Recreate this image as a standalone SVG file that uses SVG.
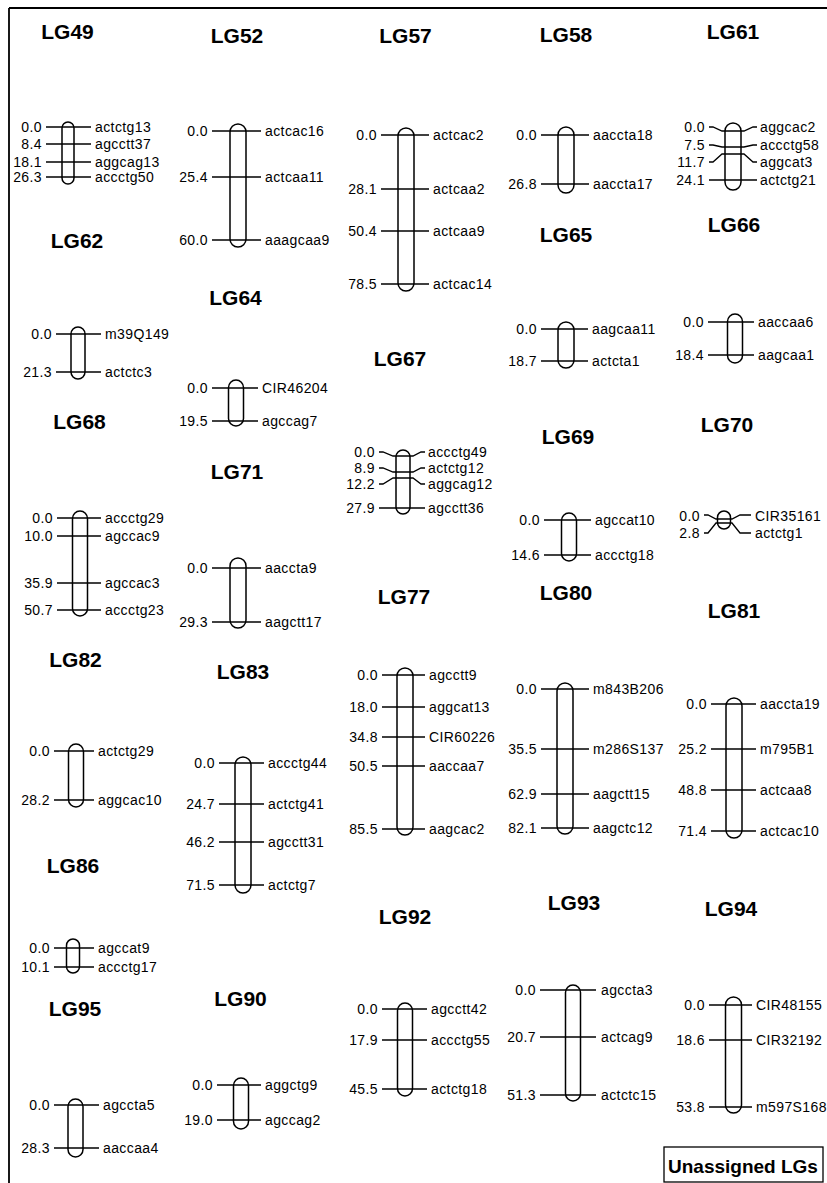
<svg xmlns="http://www.w3.org/2000/svg" width="827" height="1183" viewBox="0 0 827 1183">
<style>
.t{font-family:"Liberation Sans",Arial,sans-serif;font-weight:bold;font-size:21px;text-anchor:middle;fill:#000}
.n{font-family:"Liberation Sans",Arial,sans-serif;font-size:14px;letter-spacing:0.4px;text-anchor:end;fill:#000}
.m{font-family:"Liberation Sans",Arial,sans-serif;font-size:14px;letter-spacing:0.4px;text-anchor:start;fill:#000}
.c{fill:none;stroke:#000;stroke-width:1.5}
.l{fill:none;stroke:#000;stroke-width:1.3}
.f{fill:none;stroke:#000;stroke-width:1.8}
.u{font-family:"Liberation Sans",Arial,sans-serif;font-weight:bold;font-size:19px;fill:#000}
</style>
<rect width="827" height="1183" fill="#fff"/>
<g id="frame"><line class="f" x1="9" y1="8" x2="827" y2="8"/><line class="f" x1="9" y1="8" x2="9" y2="1183"/></g>

<g id="LG49">
<text class="t" x="67.5" y="39">LG49</text>
<rect class="c" x="62" y="122" width="12" height="62" rx="6"/>
<g class="l"><line x1="46" y1="127" x2="91" y2="127"/><line x1="46" y1="144" x2="91" y2="144"/><line x1="46" y1="162" x2="91" y2="162"/><line x1="46" y1="177" x2="91" y2="177"/></g>
<text class="n" x="42" y="132">0.0</text><text class="n" x="42" y="149">8.4</text><text class="n" x="42" y="167">18.1</text><text class="n" x="42" y="182">26.3</text>
<text class="m" x="95" y="132">actctg13</text><text class="m" x="95" y="149">agcctt37</text><text class="m" x="95" y="167">aggcag13</text><text class="m" x="95" y="182">accctg50</text>
</g>

<g id="LG52">
<text class="t" x="237" y="43">LG52</text>
<rect class="c" x="230" y="124" width="16" height="123" rx="8"/>
<g class="l"><line x1="212" y1="131" x2="261" y2="131"/><line x1="212" y1="177" x2="261" y2="177"/><line x1="212" y1="240" x2="261" y2="240"/></g>
<text class="n" x="208" y="136">0.0</text><text class="n" x="208" y="182">25.4</text><text class="n" x="208" y="245">60.0</text>
<text class="m" x="265" y="136">actcac16</text><text class="m" x="265" y="182">actcaa11</text><text class="m" x="265" y="245">aaagcaa9</text>
</g>

<g id="LG57">
<text class="t" x="405.5" y="43">LG57</text>
<rect class="c" x="398" y="128" width="16" height="163" rx="8"/>
<g class="l"><line x1="381" y1="135" x2="429" y2="135"/><line x1="381" y1="189" x2="429" y2="189"/><line x1="381" y1="231" x2="429" y2="231"/><line x1="381" y1="284" x2="429" y2="284"/></g>
<text class="n" x="377" y="140">0.0</text><text class="n" x="377" y="194">28.1</text><text class="n" x="377" y="236">50.4</text><text class="n" x="377" y="289">78.5</text>
<text class="m" x="433" y="140">actcac2</text><text class="m" x="433" y="194">actcaa2</text><text class="m" x="433" y="236">actcaa9</text><text class="m" x="433" y="289">actcac14</text>
</g>

<g id="LG58">
<text class="t" x="566" y="42">LG58</text>
<rect class="c" x="558" y="127" width="16" height="66" rx="8"/>
<g class="l"><line x1="541" y1="135" x2="589" y2="135"/><line x1="541" y1="184" x2="589" y2="184"/></g>
<text class="n" x="537" y="140">0.0</text><text class="n" x="537" y="189">26.8</text>
<text class="m" x="593" y="140">aaccta18</text><text class="m" x="593" y="189">aaccta17</text>
</g>

<g id="LG61">
<text class="t" x="733" y="39">LG61</text>
<rect class="c" x="725" y="123" width="16" height="67" rx="8"/>
<g class="l">
<polyline points="709,127 713,127 722,131 744,131 753,127 757,127"/>
<polyline points="709,145 713,145 722,147 744,147 753,145 757,145"/>
<polyline points="709,162 713,162 722,154 744,154 753,162 757,162"/>
<line x1="709" y1="180" x2="757" y2="180"/>
</g>
<text class="n" x="705" y="132">0.0</text><text class="n" x="705" y="150">7.5</text><text class="n" x="705" y="167">11.7</text><text class="n" x="705" y="185">24.1</text>
<text class="m" x="760" y="132">aggcac2</text><text class="m" x="760" y="150">accctg58</text><text class="m" x="760" y="167">aggcat3</text><text class="m" x="760" y="185">actctg21</text>
</g>

<g id="LG62">
<text class="t" x="77" y="248">LG62</text>
<rect class="c" x="71" y="327" width="14" height="52" rx="7"/>
<g class="l"><line x1="56" y1="334" x2="101" y2="334"/><line x1="56" y1="372" x2="101" y2="372"/></g>
<text class="n" x="52" y="339">0.0</text><text class="n" x="52" y="377">21.3</text>
<text class="m" x="105" y="339">m39Q149</text><text class="m" x="105" y="377">actctc3</text>
</g>

<g id="LG64">
<text class="t" x="235.5" y="305">LG64</text>
<rect class="c" x="228.5" y="380" width="15" height="46" rx="7.5"/>
<g class="l"><line x1="212" y1="388" x2="258" y2="388"/><line x1="212" y1="421" x2="258" y2="421"/></g>
<text class="n" x="208" y="393">0.0</text><text class="n" x="208" y="426">19.5</text>
<text class="m" x="262" y="393">CIR46204</text><text class="m" x="262" y="426">agccag7</text>
</g>

<g id="LG65">
<text class="t" x="566" y="242">LG65</text>
<rect class="c" x="558" y="322" width="16" height="46" rx="8"/>
<g class="l"><line x1="541" y1="329" x2="588" y2="329"/><line x1="541" y1="361" x2="588" y2="361"/></g>
<text class="n" x="537" y="334">0.0</text><text class="n" x="537" y="366">18.7</text>
<text class="m" x="592" y="334">aagcaa11</text><text class="m" x="592" y="366">actcta1</text>
</g>

<g id="LG66">
<text class="t" x="734" y="232">LG66</text>
<rect class="c" x="727.5" y="314" width="15" height="49" rx="7.5"/>
<g class="l"><line x1="708" y1="322" x2="754" y2="322"/><line x1="708" y1="355" x2="754" y2="355"/></g>
<text class="n" x="704" y="327">0.0</text><text class="n" x="704" y="360">18.4</text>
<text class="m" x="758" y="327">aaccaa6</text><text class="m" x="758" y="360">aagcaa1</text>
</g>

<g id="LG67">
<text class="t" x="400" y="366">LG67</text>
<rect class="c" x="396" y="450" width="14" height="64" rx="7"/>
<g class="l">
<polyline points="379,452 383,452 393,456 413,456 421,452 425,452"/>
<polyline points="379,468 383,468 393,472 413,472 421,468 425,468"/>
<polyline points="379,484 383,484 393,478 413,478 421,484 425,484"/>
<line x1="379" y1="508" x2="425" y2="508"/>
</g>
<text class="n" x="375" y="457">0.0</text><text class="n" x="375" y="473">8.9</text><text class="n" x="375" y="489">12.2</text><text class="n" x="375" y="513">27.9</text>
<text class="m" x="428" y="457">accctg49</text><text class="m" x="428" y="473">actctg12</text><text class="m" x="428" y="489">aggcag12</text><text class="m" x="428" y="513">agcctt36</text>
</g>

<g id="LG68">
<text class="t" x="79.5" y="429">LG68</text>
<rect class="c" x="72.5" y="511" width="15" height="105" rx="7.5"/>
<g class="l"><line x1="57" y1="518" x2="101" y2="518"/><line x1="57" y1="536" x2="101" y2="536"/><line x1="57" y1="583" x2="101" y2="583"/><line x1="57" y1="610" x2="101" y2="610"/></g>
<text class="n" x="53" y="523">0.0</text><text class="n" x="53" y="541">10.0</text><text class="n" x="53" y="588">35.9</text><text class="n" x="53" y="615">50.7</text>
<text class="m" x="105" y="523">accctg29</text><text class="m" x="105" y="541">agccac9</text><text class="m" x="105" y="588">agccac3</text><text class="m" x="105" y="615">accctg23</text>
</g>

<g id="LG69">
<text class="t" x="568" y="444">LG69</text>
<rect class="c" x="561.5" y="513" width="15" height="48" rx="7.5"/>
<g class="l"><line x1="544" y1="520" x2="591" y2="520"/><line x1="544" y1="555" x2="591" y2="555"/></g>
<text class="n" x="540" y="525">0.0</text><text class="n" x="540" y="560">14.6</text>
<text class="m" x="595" y="525">agccat10</text><text class="m" x="595" y="560">accctg18</text>
</g>

<g id="LG70">
<text class="t" x="727" y="432">LG70</text>
<rect class="c" x="717.5" y="511" width="13" height="18" rx="6.5"/>
<g class="l">
<polyline points="704,515 708,515 716,519 732,519 740,515 751,515"/>
<polyline points="704,533 708,533 716,523 732,523 740,533 751,533"/>
</g>
<text class="n" x="700" y="521">0.0</text><text class="n" x="700" y="538">2.8</text>
<text class="m" x="755" y="521">CIR35161</text><text class="m" x="755" y="538">actctg1</text>
</g>

<g id="LG71">
<text class="t" x="237" y="479">LG71</text>
<rect class="c" x="230" y="558" width="16" height="70" rx="8"/>
<g class="l"><line x1="212" y1="568" x2="261" y2="568"/><line x1="212" y1="622" x2="261" y2="622"/></g>
<text class="n" x="208" y="573">0.0</text><text class="n" x="208" y="627">29.3</text>
<text class="m" x="265" y="573">aaccta9</text><text class="m" x="265" y="627">aagctt17</text>
</g>

<g id="LG77">
<text class="t" x="404" y="604">LG77</text>
<rect class="c" x="397" y="668" width="16" height="167" rx="8"/>
<g class="l"><line x1="382" y1="675" x2="425" y2="675"/><line x1="382" y1="707" x2="425" y2="707"/><line x1="382" y1="737" x2="425" y2="737"/><line x1="382" y1="766" x2="425" y2="766"/><line x1="382" y1="829" x2="425" y2="829"/></g>
<text class="n" x="378" y="680">0.0</text><text class="n" x="378" y="712">18.0</text><text class="n" x="378" y="742">34.8</text><text class="n" x="378" y="771">50.5</text><text class="n" x="378" y="834">85.5</text>
<text class="m" x="429" y="680">agcctt9</text><text class="m" x="429" y="712">aggcat13</text><text class="m" x="429" y="742">CIR60226</text><text class="m" x="429" y="771">aaccaa7</text><text class="m" x="429" y="834">aagcac2</text>
</g>

<g id="LG80">
<text class="t" x="566" y="600">LG80</text>
<rect class="c" x="557" y="683" width="16" height="151" rx="8"/>
<g class="l"><line x1="541" y1="689" x2="589" y2="689"/><line x1="541" y1="749" x2="589" y2="749"/><line x1="541" y1="794" x2="589" y2="794"/><line x1="541" y1="828" x2="589" y2="828"/></g>
<text class="n" x="537" y="694">0.0</text><text class="n" x="537" y="754">35.5</text><text class="n" x="537" y="799">62.9</text><text class="n" x="537" y="833">82.1</text>
<text class="m" x="593" y="694">m843B206</text><text class="m" x="593" y="754">m286S137</text><text class="m" x="593" y="799">aagctt15</text><text class="m" x="593" y="833">aagctc12</text>
</g>

<g id="LG81">
<text class="t" x="734" y="618">LG81</text>
<rect class="c" x="726" y="698" width="16" height="140" rx="8"/>
<g class="l"><line x1="711" y1="704" x2="756" y2="704"/><line x1="711" y1="749" x2="756" y2="749"/><line x1="711" y1="790" x2="756" y2="790"/><line x1="711" y1="831" x2="756" y2="831"/></g>
<text class="n" x="707" y="709">0.0</text><text class="n" x="707" y="754">25.2</text><text class="n" x="707" y="795">48.8</text><text class="n" x="707" y="836">71.4</text>
<text class="m" x="760" y="709">aaccta19</text><text class="m" x="760" y="754">m795B1</text><text class="m" x="760" y="795">actcaa8</text><text class="m" x="760" y="836">actcac10</text>
</g>

<g id="LG82">
<text class="t" x="75.5" y="667">LG82</text>
<rect class="c" x="68.5" y="744" width="15" height="63" rx="7.5"/>
<g class="l"><line x1="54" y1="751" x2="94" y2="751"/><line x1="54" y1="800" x2="94" y2="800"/></g>
<text class="n" x="50" y="756">0.0</text><text class="n" x="50" y="805">28.2</text>
<text class="m" x="98" y="756">actctg29</text><text class="m" x="98" y="805">aggcac10</text>
</g>

<g id="LG83">
<text class="t" x="243" y="679">LG83</text>
<rect class="c" x="235" y="757" width="16" height="136" rx="8"/>
<g class="l"><line x1="219" y1="763" x2="264" y2="763"/><line x1="219" y1="804" x2="264" y2="804"/><line x1="219" y1="842" x2="264" y2="842"/><line x1="219" y1="885" x2="264" y2="885"/></g>
<text class="n" x="215" y="768">0.0</text><text class="n" x="215" y="809">24.7</text><text class="n" x="215" y="847">46.2</text><text class="n" x="215" y="890">71.5</text>
<text class="m" x="268" y="768">accctg44</text><text class="m" x="268" y="809">actctg41</text><text class="m" x="268" y="847">agcctt31</text><text class="m" x="268" y="890">actctg7</text>
</g>

<g id="LG86">
<text class="t" x="73" y="873">LG86</text>
<rect class="c" x="66.5" y="939" width="13" height="34" rx="6.5"/>
<g class="l"><line x1="54" y1="948" x2="94" y2="948"/><line x1="54" y1="967" x2="94" y2="967"/></g>
<text class="n" x="50" y="953">0.0</text><text class="n" x="50" y="972">10.1</text>
<text class="m" x="98" y="953">agccat9</text><text class="m" x="98" y="972">accctg17</text>
</g>

<g id="LG90">
<text class="t" x="240.5" y="1006">LG90</text>
<rect class="c" x="233.5" y="1078" width="15" height="51" rx="7.5"/>
<g class="l"><line x1="217" y1="1085" x2="261" y2="1085"/><line x1="217" y1="1120" x2="261" y2="1120"/></g>
<text class="n" x="213" y="1090">0.0</text><text class="n" x="213" y="1125">19.0</text>
<text class="m" x="265" y="1090">aggctg9</text><text class="m" x="265" y="1125">agccag2</text>
</g>

<g id="LG92">
<text class="t" x="405" y="924">LG92</text>
<rect class="c" x="397.5" y="1003" width="15" height="93" rx="7.5"/>
<g class="l"><line x1="382" y1="1009" x2="427" y2="1009"/><line x1="382" y1="1040" x2="427" y2="1040"/><line x1="382" y1="1089" x2="427" y2="1089"/></g>
<text class="n" x="378" y="1014">0.0</text><text class="n" x="378" y="1045">17.9</text><text class="n" x="378" y="1094">45.5</text>
<text class="m" x="431" y="1014">agcctt42</text><text class="m" x="431" y="1045">accctg55</text><text class="m" x="431" y="1094">actctg18</text>
</g>

<g id="LG93">
<text class="t" x="574" y="910">LG93</text>
<rect class="c" x="565.5" y="985" width="15" height="116" rx="7.5"/>
<g class="l"><line x1="540" y1="990" x2="596" y2="990"/><line x1="540" y1="1037" x2="596" y2="1037"/><line x1="540" y1="1095" x2="596" y2="1095"/></g>
<text class="n" x="536" y="995">0.0</text><text class="n" x="536" y="1042">20.7</text><text class="n" x="536" y="1100">51.3</text>
<text class="m" x="601" y="995">agccta3</text><text class="m" x="601" y="1042">actcag9</text><text class="m" x="601" y="1100">actctc15</text>
</g>

<g id="LG94">
<text class="t" x="731" y="916">LG94</text>
<rect class="c" x="725.5" y="997" width="16" height="116" rx="8"/>
<g class="l"><line x1="709" y1="1005" x2="752" y2="1005"/><line x1="709" y1="1040" x2="752" y2="1040"/><line x1="709" y1="1107" x2="752" y2="1107"/></g>
<text class="n" x="705" y="1010">0.0</text><text class="n" x="705" y="1045">18.6</text><text class="n" x="705" y="1112">53.8</text>
<text class="m" x="756" y="1010">CIR48155</text><text class="m" x="756" y="1045">CIR32192</text><text class="m" x="756" y="1112">m597S168</text>
</g>

<g id="LG95">
<text class="t" x="75" y="1016">LG95</text>
<rect class="c" x="68" y="1099" width="15" height="58" rx="7.5"/>
<g class="l"><line x1="54" y1="1105" x2="99" y2="1105"/><line x1="54" y1="1148" x2="99" y2="1148"/></g>
<text class="n" x="50" y="1110">0.0</text><text class="n" x="50" y="1153">28.3</text>
<text class="m" x="103" y="1110">agccta5</text><text class="m" x="103" y="1153">aaccaa4</text>
</g>

<g id="unassigned">
<rect x="664" y="1147" width="159" height="35" fill="none" stroke="#000" stroke-width="1.3"/>
<text class="u" x="668" y="1173">Unassigned LGs</text>
</g>
</svg>
